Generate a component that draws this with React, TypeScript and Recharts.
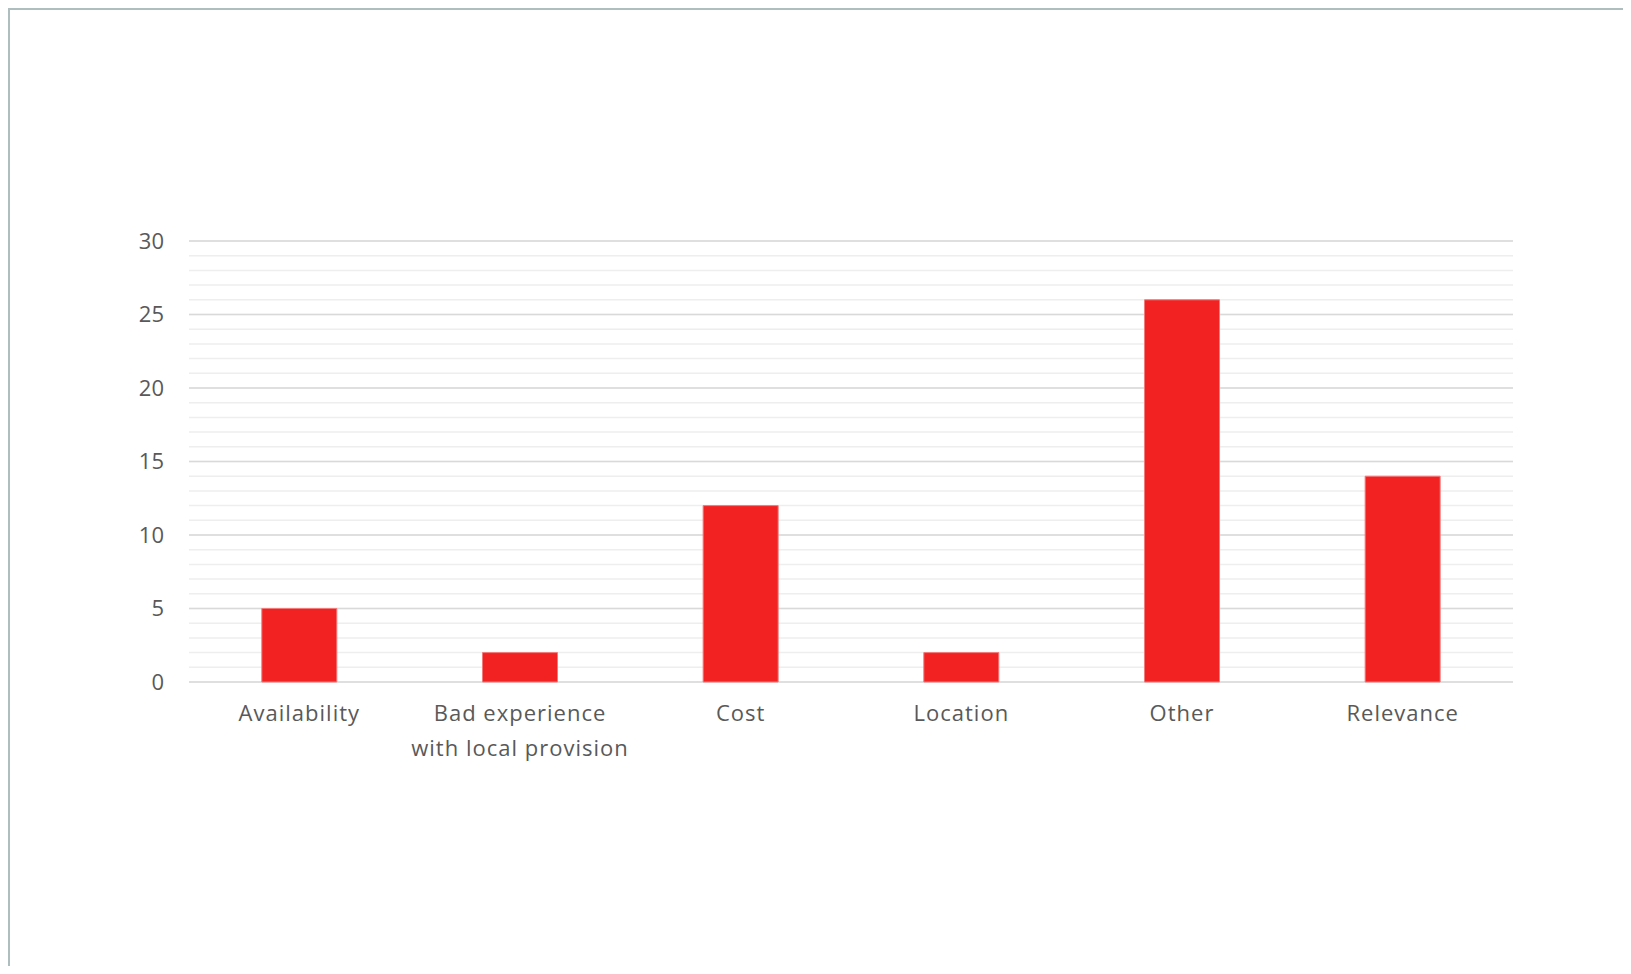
import React from "react";
import { Bar, BarChart, CartesianGrid, XAxis, YAxis } from "recharts";

const categories = ["Availability", "Bad experience with local provision", "Cost", "Location", "Other", "Relevance"];
const counts = [5, 2, 12, 2, 26, 14];
const tickLines: string[][] = [
  ["Availability"],
  ["Bad experience", "with local provision"],
  ["Cost"],
  ["Location"],
  ["Other"],
  ["Relevance"],
];
const majorTicks = [0, 5, 10, 15, 20, 25, 30];
const minorTicks = [0, 1, 2, 3, 4, 5, 6, 7, 8, 9, 10, 11, 12, 13, 14, 15, 16, 17, 18, 19, 20, 21, 22, 23, 24, 25, 26, 27, 28, 29, 30];

const data = categories.map((name, i) => ({ name, value: counts[i] }));

const FONT = "'Open Sans', sans-serif";

const XTick = (props: any) => {
  const { x, y, index } = props;
  const lines = tickLines[index] || [props.payload.value];
  return (
    <g transform={`translate(${x},${y})`}>
      {lines.map((l, i) => (
        <text
          key={i}
          x={0}
          y={0}
          dy={31 + i * 35}
          textAnchor="middle"
          fill="#595959"
          fontSize={22}
          letterSpacing={1}
          fontFamily={FONT}
        >
          {l}
        </text>
      ))}
    </g>
  );
};

export default function App() {
  return (
    <div
      style={{
        width: 1621,
        height: 956,
        borderLeft: "2px solid #aebdbd",
        borderTop: "2px solid #aebdbd",
        background: "#fff",
        overflow: "hidden",
      }}
    >
      <BarChart
        width={1600}
        height={900}
        data={data}
        margin={{ top: 231, right: 97, bottom: 188, left: 119 }}
        barCategoryGap="33%"
      >
        <CartesianGrid vertical={false} horizontalValues={minorTicks} stroke="#eeeeee" strokeWidth={1.5} />
        <CartesianGrid vertical={false} horizontalValues={majorTicks} stroke="#d9d9d9" strokeWidth={1.5} />
        <XAxis dataKey="name" axisLine={false} tickLine={false} interval={0} height={40} tick={<XTick />} />
        <YAxis
          width={60}
          domain={[0, 30]}
          ticks={majorTicks}
          interval={0}
          axisLine={false}
          tickLine={false}
          tickSize={0}
          tickMargin={25}
          tick={{ fill: "#595959", fontSize: 22, fontFamily: FONT }}
        />
        <Bar dataKey="value" fill="#f22222" stroke="#f47a7a" strokeWidth={1} isAnimationActive={false} />
      </BarChart>
    </div>
  );
}
